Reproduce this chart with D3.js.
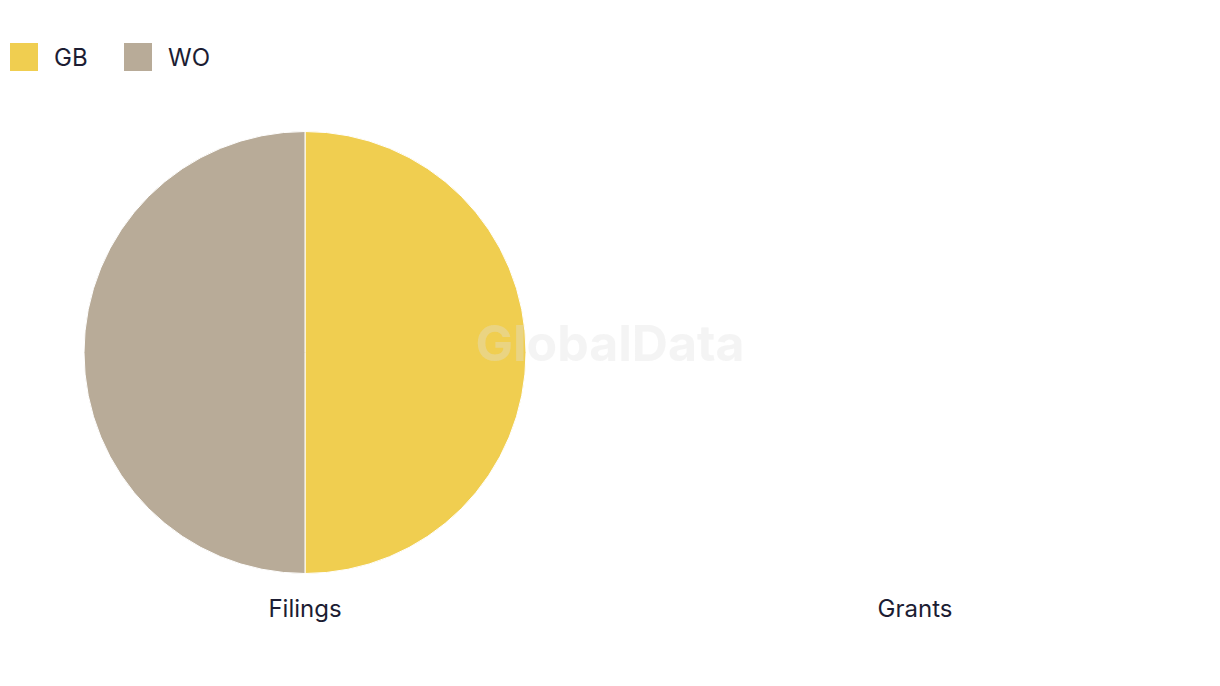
<!DOCTYPE html>
<html>
<head>
<meta charset="utf-8">
<script src="https://cdn.jsdelivr.net/npm/d3@7"></script>
<style>
  html, body { margin: 0; padding: 0; background: #ffffff; }
  svg { display: block; font-family: Inter, "Liberation Sans", sans-serif; }
</style>
</head>
<body>
<svg id="chart" width="1220" height="686"></svg>
<script>
const categories = ["GB", "WO"];
const colors = ["#F0CE50", "#B8AB98"];
const panels = ["Filings", "Grants"];
const filingsValues = [1, 1];
const grantsValues = [0, 0];
const panelValues = [filingsValues, grantsValues];

const W = 1220, H = 686;
const svg = d3.select("#chart");

const color = d3.scaleOrdinal().domain(categories).range(colors);

// Legend
const legend = svg.append("g").attr("transform", "translate(10,43)");
const legendX = d3.scalePoint().domain(categories).range([0, 114]);
categories.forEach(c => {
  const g = legend.append("g").attr("transform", `translate(${legendX(c)},0)`);
  g.append("rect").attr("width", 28).attr("height", 28).attr("fill", color(c));
  g.append("text").attr("x", 44).attr("y", 23)
    .attr("font-size", 24).attr("fill", "#1c1d33").text(c);
});

// Panels
const px = d3.scaleBand().domain(panels).range([0, W]);
const cy = 352.5, R = 221;
const pie = d3.pie().sort(null).value(d => d.v).startAngle(0).endAngle(2 * Math.PI);
const arc = d3.arc().innerRadius(0).outerRadius(R);

panels.forEach((p, i) => {
  const cx = px(p) + px.bandwidth() / 2;
  const data = categories.map((c, j) => ({ c, v: panelValues[i][j] }));
  const total = d3.sum(data, d => d.v);
  const g = svg.append("g").attr("transform", `translate(${cx},${cy})`);
  if (total > 0) {
    g.selectAll("path").data(pie(data)).join("path")
      .attr("d", arc)
      .attr("fill", d => color(d.data.c))
      .attr("stroke", "#ffffff")
      .attr("stroke-width", 1);
  }
  svg.append("text")
    .attr("x", cx).attr("y", 617)
    .attr("text-anchor", "middle")
    .attr("font-size", 24)
    .attr("fill", "#1c1d33")
    .text(p);
});

// Watermark
svg.append("text")
  .attr("x", W / 2).attr("y", 361)
  .attr("text-anchor", "middle")
  .attr("font-size", 50)
  .attr("font-weight", "bold")
  .attr("fill", "#e0e0e0")
  .attr("fill-opacity", 0.35)
  .text("GlobalData");
</script>
</body>
</html>
